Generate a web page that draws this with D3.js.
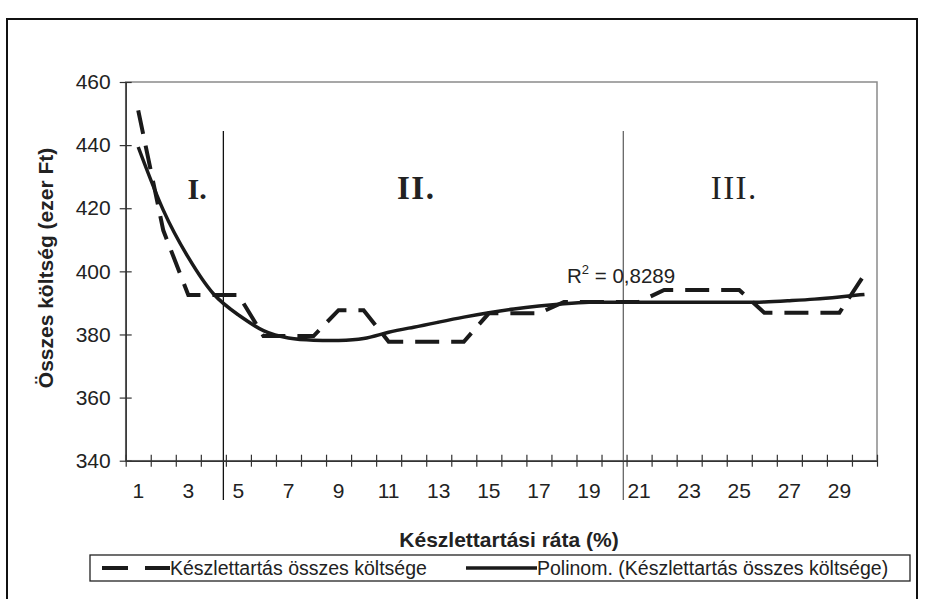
<!DOCTYPE html>
<html><head><meta charset="utf-8">
<script src="https://cdn.jsdelivr.net/npm/d3@7"></script>
<style>body{margin:0;background:#fff}svg{display:block}</style>
</head><body><svg id="c" width="925" height="599"></svg>
<script>
// ---- data ----
const categories = [1,2,3,4,5,6,7,8,9,10,11,12,13,14,15,16,17,18,19,20,21,22,23,24,25,26,27,28,29,30];
const costValues = [451, 413, 392.5, 392.5, 392.5, 379.5, 379.5, 379.5, 387.7, 387.7,
                    377.7, 377.7, 377.7, 377.7, 386.7, 386.7, 386.7, 390.3, 390.3, 390.3,
                    390.3, 394.1, 394.1, 394.1, 394.1, 386.9, 386.9, 386.9, 386.9, 399];
const trendValues = [439.4, 419.4, 404.4, 392.9, 386.2, 381.2, 378.9, 378.2, 378.1, 378.7,
                     380.7, 382.3, 383.9, 385.5, 386.9, 388.1, 389.0, 389.7, 390.2, 390.2,
                     390.2, 390.2, 390.2, 390.2, 390.2, 390.3, 390.7, 391.2, 391.9, 392.7];
const yTicks = [340, 360, 380, 400, 420, 440, 460];
const xTickLabels = [1,3,5,7,9,11,13,15,17,19,21,23,25,27,29];
const regionLabels = ["I.", "II.", "III."];
const regionDividers = [4.4, 20.37];
const regionLabelPos = [3.35, 12.1, 24.8];
const rSquared = "0,8289";
const seriesNames = ["Készlettartás összes költsége", "Polinom. (Készlettartás összes költsége)"];

// ---- layout ----
const svg = d3.select("#c");
const L = 125.7, R = 877, T = 82, B = 460.7;
const x = d3.scaleLinear().domain([0.5, 30.5]).range([L, R]);
const y = d3.scaleLinear().domain([340, 460]).range([B, T]);
const sans = "'Liberation Sans', Arial, sans-serif";
const serif = "'Liberation Serif', 'Times New Roman', serif";

svg.append("rect").attr("width", 925).attr("height", 599).attr("fill", "#fff");
// outer frame
svg.append("rect").attr("x", 7).attr("y", 19).attr("width", 910).attr("height", 600)
  .attr("fill", "none").attr("stroke", "#111").attr("stroke-width", 2);

// plot area border (gray)
svg.append("rect").attr("x", L).attr("y", T).attr("width", R - L).attr("height", B - T)
  .attr("fill", "none").attr("stroke", "#8a8a8a").attr("stroke-width", 1.5);

// region dividers
svg.selectAll("line.div").data(regionDividers).join("line").attr("class", "div")
  .attr("x1", d => x(d)).attr("x2", d => x(d))
  .attr("y1", 131).attr("y2", 500)
  .attr("stroke", (d, i) => i === 0 ? "#111" : "#666").attr("stroke-width", 1.3);

// y axis
const yAxis = d3.axisLeft(y).tickValues(yTicks).tickSizeInner(6).tickSizeOuter(0).tickPadding(9);
const gy = svg.append("g").attr("transform", `translate(${L},0)`).call(yAxis);
gy.select(".domain").attr("stroke", "#333").attr("stroke-width", 1.5);
gy.selectAll(".tick line").attr("x2", -6).attr("x1", 6).attr("stroke", "#333").attr("stroke-width", 1.2);
gy.selectAll(".tick text").attr("font-family", sans).attr("font-size", 21).attr("fill", "#222");

// x axis (ticks at category boundaries)
const xb = d3.range(0.5, 31, 1);
const xAxis = d3.axisBottom(x).tickValues(xb).tickFormat("").tickSizeInner(6).tickSizeOuter(0);
const gx = svg.append("g").attr("transform", `translate(0,${B})`).call(xAxis);
gx.select(".domain").attr("stroke", "#333").attr("stroke-width", 1.5);
gx.selectAll(".tick line").attr("y1", -6).attr("y2", 6).attr("stroke", "#333").attr("stroke-width", 1.2);
svg.selectAll("text.xl").data(xTickLabels).join("text").attr("class", "xl")
  .attr("x", d => x(d)).attr("y", 498).attr("text-anchor", "middle")
  .attr("font-family", sans).attr("font-size", 21).attr("fill", "#222").text(d => d);

// region labels
const regSize = [30, 33, 33];
svg.selectAll("text.reg").data(regionLabels).join("text").attr("class", "reg")
  .attr("x", (d, i) => x(regionLabelPos[i])).attr("y", 199).attr("text-anchor", "middle")
  .attr("font-family", serif).attr("font-size", (d, i) => regSize[i])
  .attr("letter-spacing", (d, i) => i === 0 ? 0 : 1.5)
  .attr("font-weight", (d, i) => i < 2 ? "bold" : "normal").attr("fill", "#222").text(d => d);

// series
const pts = categories.map((c, i) => [c, costValues[i]]);
const tpts = categories.map((c, i) => [c, trendValues[i]]);
svg.append("path").datum(tpts)
  .attr("d", d3.line().x(d => x(d[0])).y(d => y(d[1])).curve(d3.curveNatural))
  .attr("fill", "none").attr("stroke", "#1a1a1a").attr("stroke-width", 3.5);
svg.append("path").datum(pts)
  .attr("d", d3.line().x(d => x(d[0])).y(d => y(d[1])))
  .attr("fill", "none").attr("stroke", "#1a1a1a").attr("stroke-width", 4)
  .attr("stroke-dasharray", "24,12");

// R² label
const rt = svg.append("text").attr("x", 567).attr("y", 283)
  .attr("font-family", sans).attr("font-size", 20.5).attr("fill", "#222");
rt.append("tspan").text("R");
rt.append("tspan").attr("font-size", 13).attr("dy", -9).text("2");
rt.append("tspan").attr("dy", 9).text(" = " + rSquared);

// axis titles
svg.append("text").attr("transform", "translate(53,268) rotate(-90)").attr("text-anchor", "middle")
  .attr("font-family", sans).attr("font-weight", "bold").attr("font-size", 21).attr("fill", "#222")
  .text("Összes költség (ezer Ft)");
svg.append("text").attr("x", 509).attr("y", 547).attr("text-anchor", "middle")
  .attr("font-family", sans).attr("font-weight", "bold").attr("font-size", 21).attr("fill", "#222")
  .text("Készlettartási ráta (%)");

// legend
svg.append("rect").attr("x", 90).attr("y", 555).attr("width", 820).attr("height", 26)
  .attr("fill", "#fff").attr("stroke", "#222").attr("stroke-width", 1.3);
svg.append("line").attr("x1", 102).attr("x2", 170).attr("y1", 568).attr("y2", 568)
  .attr("stroke", "#1a1a1a").attr("stroke-width", 4).attr("stroke-dasharray", "26,17");
svg.append("text").attr("x", 170).attr("y", 575).attr("font-family", sans).attr("font-size", 19.5)
  .attr("fill", "#222").text(seriesNames[0]);
svg.append("line").attr("x1", 466).attr("x2", 537).attr("y1", 568).attr("y2", 568)
  .attr("stroke", "#1a1a1a").attr("stroke-width", 3.5);
svg.append("text").attr("x", 537).attr("y", 575).attr("font-family", sans).attr("font-size", 19.5)
  .attr("fill", "#222").text(seriesNames[1]);
</script></body></html>
